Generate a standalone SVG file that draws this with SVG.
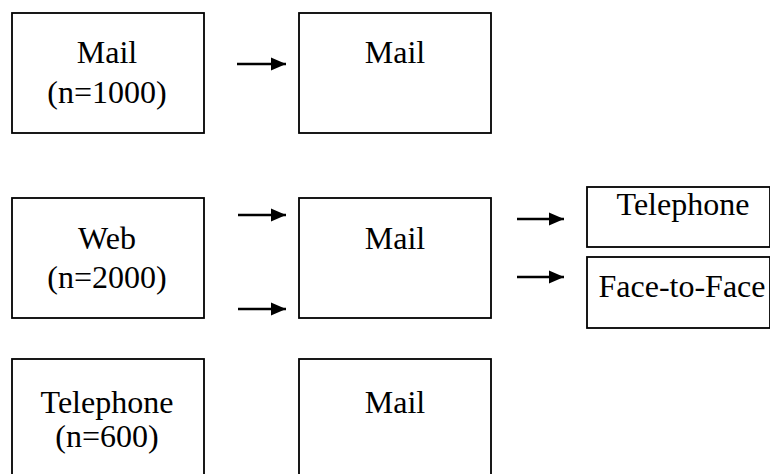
<svg xmlns="http://www.w3.org/2000/svg" width="770" height="474" viewBox="0 0 770 474">
<style>
.box{fill:#fff;stroke:#000;stroke-width:1.8}
.t{font-family:"Liberation Serif","Times New Roman",serif;font-size:32px;fill:#000;text-anchor:middle}
.c{stroke:#000;stroke-width:2.6;fill:none}
</style>
<defs>
<marker id="ah" markerUnits="userSpaceOnUse" markerWidth="16" markerHeight="14" refX="15" refY="7" orient="auto">
<path d="M0,0.5 L15,7 L0,13.5 Z" fill="#000"/>
</marker>
</defs>
<rect width="770" height="474" fill="#fff"/>
<g id="mail1000">
<rect class="box" x="12" y="13" width="192" height="120"/>
<text class="t" x="107" y="63">Mail</text>
<text class="t" x="107" y="103">(n=1000)</text>
</g>
<g id="mail-a">
<rect class="box" x="299" y="13" width="192" height="120"/>
<text class="t" x="395" y="63">Mail</text>
</g>
<g id="web2000">
<rect class="box" x="12" y="198" width="192" height="120"/>
<text class="t" x="107" y="249">Web</text>
<text class="t" x="107" y="288">(n=2000)</text>
</g>
<g id="mail-b">
<rect class="box" x="299" y="198" width="192" height="120"/>
<text class="t" x="395" y="249">Mail</text>
</g>
<g id="telephone-r">
<rect class="box" x="587" y="187" width="183" height="60"/>
<text class="t" x="683" y="215">Telephone</text>
</g>
<g id="f2f">
<rect class="box" x="587" y="257" width="183" height="71"/>
<text class="t" x="682" y="297">Face-to-Face</text>
</g>
<g id="tel600">
<rect class="box" x="12" y="359" width="192" height="130"/>
<text class="t" x="107" y="413">Telephone</text>
<text class="t" x="107" y="447">(n=600)</text>
</g>
<g id="mail-c">
<rect class="box" x="299" y="359" width="192" height="130"/>
<text class="t" x="395" y="413">Mail</text>
</g>
<g id="connectors">
<line class="c" x1="237" y1="64" x2="286" y2="64" marker-end="url(#ah)"/>
<line class="c" x1="238" y1="215" x2="286" y2="215" marker-end="url(#ah)"/>
<line class="c" x1="238" y1="309" x2="286" y2="309" marker-end="url(#ah)"/>
<line class="c" x1="517" y1="219" x2="564" y2="219" marker-end="url(#ah)"/>
<line class="c" x1="517" y1="277" x2="564" y2="277" marker-end="url(#ah)"/>
</g>
</svg>
